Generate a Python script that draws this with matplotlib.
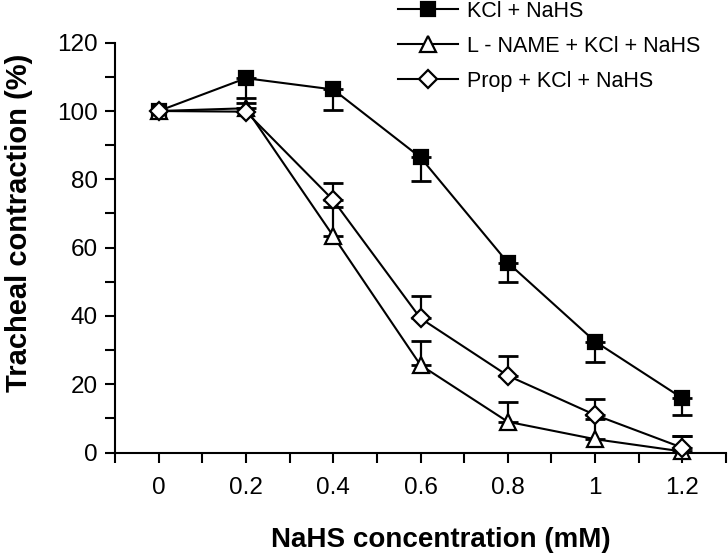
import numpy as np
import matplotlib
matplotlib.use("Agg")
import matplotlib.pyplot as plt
from matplotlib.ticker import MultipleLocator, FixedLocator

plt.rcParams['font.family'] = ['Liberation Sans', 'DejaVu Sans']

x = [0, 0.2, 0.4, 0.6, 0.8, 1.0, 1.2]
x_labels = ["0", "0.2", "0.4", "0.6", "0.8", "1", "1.2"]

kcl = [100, 109.6, 106.3, 86.4, 55.6, 32.5, 15.9]
kcl_err_low = [0, 5.8, 6.0, 6.8, 5.6, 6.1, 4.9]

lname = [100, 100.8, 63.4, 25.6, 9.0, 3.9, 0.3]
lname_err_up = [0, 1.4, 8.6, 7.1, 5.7, 5.8, 4.5]

prop = [100, 99.8, 73.9, 39.3, 22.5, 11.0, 1.4]
prop_err_up = [0, 0, 5.1, 6.5, 5.8, 4.6, 3.4]

labels = ["KCl + NaHS", "L - NAME + KCl + NaHS", "Prop + KCl + NaHS"]

fig = plt.figure(figsize=(7.28, 5.55), dpi=100)
ax = fig.add_axes([115/728, (555-452.5)/555, (726-115)/728, (452.5-42.7)/555])

lw = 1.5
series = [
    (kcl, kcl_err_low, 'low', 's', 10, 'black', labels[0]),
    (lname, lname_err_up, 'up', '^', 11, 'white', labels[1]),
    (prop, prop_err_up, 'up', 'D', 9, 'white', labels[2]),
]
handles = []
for i, (y, err, side, mk, ms, fc, lab) in enumerate(series):
    xa = np.array(x); ya = np.array(y); ea = np.array(err)
    m = ea > 0
    if side == 'low':
        yerr = [ea[m], np.zeros(m.sum())]
    else:
        yerr = [np.zeros(m.sum()), ea[m]]
    ax.errorbar(xa[m], ya[m], yerr=yerr, fmt='none', ecolor='black',
                elinewidth=1.6, capsize=7, capthick=2.0, zorder=2 + i * 3)
    h, = ax.plot(x, y, color='black', lw=lw, marker=mk, markersize=ms,
                 markerfacecolor=fc, markeredgecolor='black', markeredgewidth=1.6,
                 zorder=3 + i * 3, label=lab, clip_on=False)
    handles.append(h)

ax.set_xlim(-0.1, 1.3)
ax.set_ylim(0, 120)
ax.xaxis.set_major_locator(FixedLocator(x))
ax.set_xticklabels(x_labels)
ax.xaxis.set_minor_locator(FixedLocator([-0.1, 0.1, 0.3, 0.5, 0.7, 0.9, 1.1, 1.3]))
ax.yaxis.set_major_locator(MultipleLocator(20))
ax.yaxis.set_minor_locator(MultipleLocator(10))

for s in ['top', 'right']:
    ax.spines[s].set_visible(False)
for s in ['left', 'bottom']:
    ax.spines[s].set_linewidth(1.5)

ax.tick_params(axis='both', which='both', direction='out', width=1.5, colors='black')
ax.tick_params(axis='y', which='both', length=7.5, pad=5, labelsize=17.5)
ax.tick_params(axis='x', which='both', length=7, pad=11, labelsize=17.5)

ax.set_xlabel("NaHS concentration (mM)", fontsize=20, fontweight='bold')
ax.xaxis.set_label_coords((441 - 115) / 611, -(547 - 452.5) / 409.8)
ax.xaxis.label.set_verticalalignment('baseline')
ax.set_ylabel("Tracheal contraction (%)", fontsize=21, fontweight='bold')
ax.yaxis.set_label_coords((19 - 115) / 611, (452.5 - 223) / 409.8)
ax.yaxis.label.set_verticalalignment('center')

leg = fig.legend(handles=handles, loc='upper left',
                 bbox_to_anchor=(398/728, 1 - 1/555), frameon=False,
                 fontsize=15.5, handlelength=2.8, handletextpad=0.4,
                 labelspacing=0.65, borderpad=0, borderaxespad=0)

fig.savefig("out.png", dpi=100)
